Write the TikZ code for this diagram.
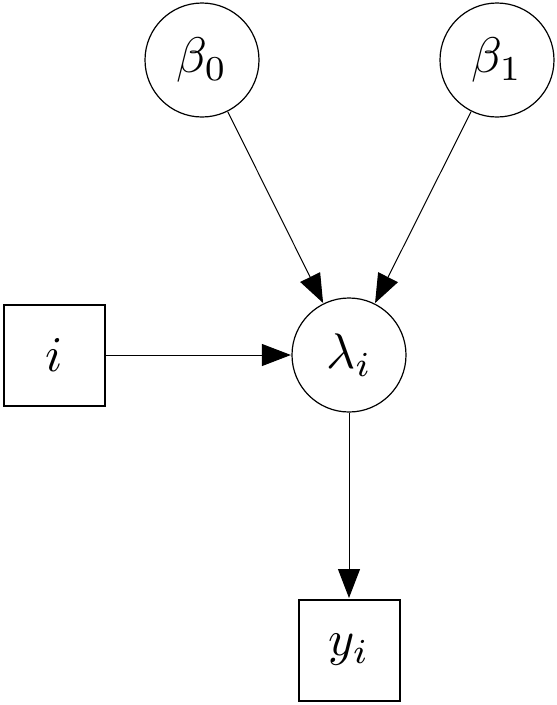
\documentclass[tikz,border=0pt]{standalone}
\usepackage{graphicx}
\usetikzlibrary{arrows.meta}
\newcommand{\myhuge}[1]{\scalebox{5}{$#1$}}
\begin{document}
\begin{tikzpicture}[x=1pt,y=-1pt,
  latent/.style={circle,draw,line width=1.2pt,minimum size=114pt,inner sep=0pt},
  obs/.style={rectangle,draw,line width=2pt,minimum size=101pt,inner sep=0pt},
  edge/.style={line width=1pt,-{Triangle[length=29pt,width=22pt]},shorten >=0.5pt}]
\useasboundingbox (0,0) rectangle (557,705);
\node[latent] (b0) at (202,60) {\myhuge{\beta_0}};
\node[latent] (b1) at (497,60) {\myhuge{\beta_1}};
\node[latent] (lam) at (349,355) {\myhuge{\lambda_i}};
\node[obs] (i) at (54,355) {\myhuge{i}};
\node[obs] (y) at (349,650) {\myhuge{y_i}};
\draw[edge] (b0) -- (lam);
\draw[edge] (b1) -- (lam);
\draw[edge] (i) -- (lam);
\draw[edge] (lam) -- (y);
\end{tikzpicture}
\end{document}
